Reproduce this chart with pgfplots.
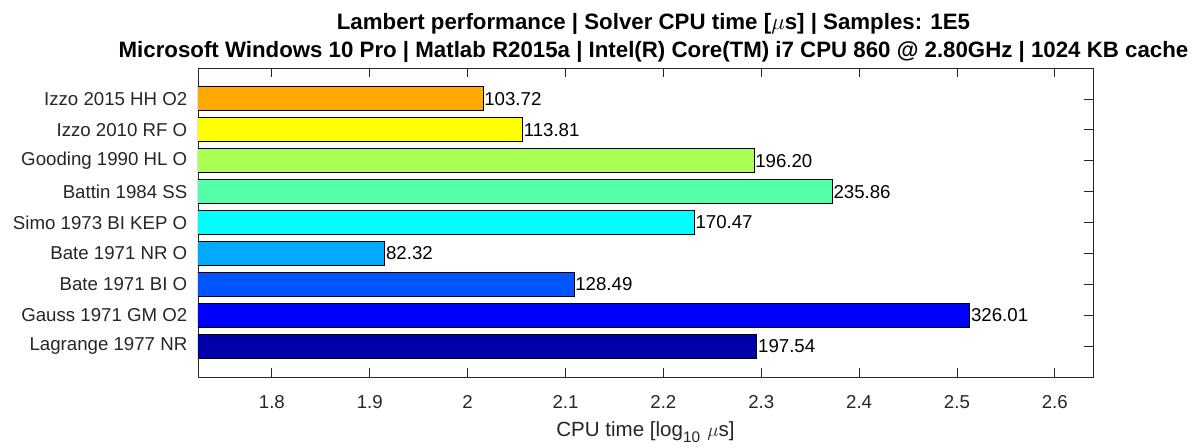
\documentclass[border=0pt]{standalone}
\usepackage{pgfplots}
\pgfplotsset{compat=1.18}
\usepackage{fontspec}
\setmainfont{Liberation Sans}
\usetikzlibrary{calc}
\definecolor{cA}{RGB}{0,0,170}
\definecolor{cB}{RGB}{0,0,255}
\definecolor{cC}{RGB}{0,85,255}
\definecolor{cD}{RGB}{0,170,255}
\definecolor{cE}{RGB}{0,255,255}
\definecolor{cF}{RGB}{85,255,170}
\definecolor{cG}{RGB}{170,255,85}
\definecolor{cH}{RGB}{255,255,0}
\definecolor{cI}{RGB}{255,170,0}
\definecolor{axgray}{RGB}{38,38,38}
\begin{document}
\begin{tikzpicture}
\begin{axis}[
  scale only axis, width=671.25pt, height=231.75pt,
  xmin=1.7245, xmax=2.639, ymin=0, ymax=10,
  xbar, bar width=0.78, bar shift=0pt,
  xtick={1.8,1.9,2,2.1,2.2,2.3,2.4,2.5,2.6},
  xticklabels={1.8,1.9,2,2.1,2.2,2.3,2.4,2.5,2.6},
  ytick={1,2,3,4,5,6,7,8,9},
  yticklabels={Lagrange 1977 NR, Gauss 1971 GM O2, Bate 1971 BI O, Bate 1971 NR O, Simo 1973 BI KEP O, Battin 1984 SS, Gooding 1990 HL O, Izzo 2010 RF O, Izzo 2015 HH O2},
  tick align=inside, major tick length=7pt,
  axis line style={draw=axgray, line width=0.6pt},
  every tick/.style={draw=axgray, line width=0.6pt},
  tick label style={font=\fontsize{14}{16}\selectfont, text=axgray},
  xticklabel style={yshift=-10pt},
  yticklabel style={xshift=-4.5pt},
  title style={font=\bfseries\fontsize{16.7}{21}\selectfont, align=center, xshift=6pt, yshift=-5pt},
  title={Lambert performance | Solver CPU time [$\mu$s] | Samples: 1E5\\Microsoft Windows 10 Pro | Matlab R2015a | Intel(R) Core(TM) i7 CPU 860 @ 2.80GHz | 1024 KB cache},
  xlabel={CPU time [log\raisebox{-4.5pt}{\fontsize{11.5}{12}\selectfont 10}\hspace{0.35em}$\mu$s]},
  xlabel style={font=\fontsize{15.4}{17}\selectfont, text=axgray, yshift=-3.5pt},
  nodes near coords, point meta=explicit symbolic,
  every node near coord/.append style={anchor=west, font=\fontsize{14}{16}\selectfont, inner sep=0.5pt, text=black},
  /pgf/number format/assume math mode=true,
]
\addplot[draw=black, line width=0.75pt, fill=cI] coordinates {(2.01586,9) [103.72]};
\addplot[draw=black, line width=0.75pt, fill=cH] coordinates {(2.05618,8) [113.81]};
\addplot[draw=black, line width=0.75pt, fill=cG] coordinates {(2.29270,7) [196.20]};
\addplot[draw=black, line width=0.75pt, fill=cF] coordinates {(2.37265,6) [235.86]};
\addplot[draw=black, line width=0.75pt, fill=cE] coordinates {(2.23165,5) [170.47]};
\addplot[draw=black, line width=0.75pt, fill=cD] coordinates {(1.91551,4) [82.32]};
\addplot[draw=black, line width=0.75pt, fill=cC] coordinates {(2.10887,3) [128.49]};
\addplot[draw=black, line width=0.75pt, fill=cB] coordinates {(2.51323,2) [326.01]};
\addplot[draw=black, line width=0.75pt, fill=cA] coordinates {(2.29565,1) [197.54]};
\end{axis}
\pgfresetboundingbox
\useasboundingbox ($(current axis.south west)+(-148.5pt,-52.5pt)$) rectangle ($(current axis.north east)+(75pt,51pt)$);
\end{tikzpicture}
\end{document}
